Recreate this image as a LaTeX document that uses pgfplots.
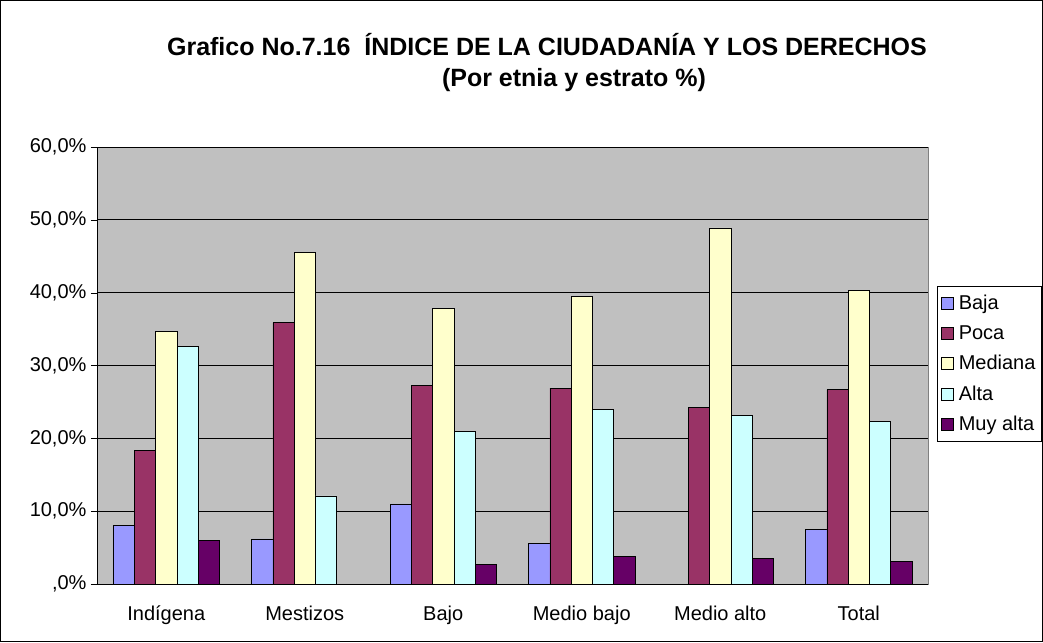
\documentclass[border=0pt]{standalone}
\usepackage{pgfplots}
\pgfplotsset{compat=1.18}
\usepackage{fontspec}
\setmainfont{Liberation Sans}
\definecolor{cBaja}{HTML}{9999FF}
\definecolor{cPoca}{HTML}{993366}
\definecolor{cMed}{HTML}{FFFFCC}
\definecolor{cAlta}{HTML}{CCFFFF}
\definecolor{cMuy}{HTML}{660066}
\definecolor{plotbg}{HTML}{C0C0C0}
\begin{document}
\begin{tikzpicture}[x=1pt,y=1pt]
\useasboundingbox (0,0) rectangle (1043,642);
\draw[black,line width=1pt] (0.5,0.5) rectangle (1042.5,641.5);
\node[font=\fontsize{25}{28}\selectfont\bfseries, anchor=base] at (547,586) {Grafico No.7.16\ \ ÍNDICE DE LA CIUDADANÍA Y LOS DERECHOS};
\node[font=\fontsize{25}{28}\selectfont\bfseries, anchor=base] at (574,555) {(Por etnia y estrato \%)};
\begin{axis}[
  at={(97pt,58pt)}, anchor=south west,
  scale only axis, width=831pt, height=437pt,
  ybar=0pt, bar width=21.3pt,
  xmin=-0.5, xmax=5.5, ymin=0, ymax=60,
  axis background/.style={fill=plotbg, draw=gray},
  axis x line*=bottom, axis y line*=left,
  axis line style={black, line width=0.8pt},
  major tick length=6pt,
  xtick={0,1,2,3,4,5},
  xticklabels={Indígena,Mestizos,Bajo,Medio bajo,Medio alto,Total},
  x tick style={draw=none},
  extra x ticks={-0.5,0.5,1.5,2.5,3.5,4.5,5.5},
  extra x tick labels={},
  extra x tick style={tick style={draw=black}, grid=none},
  ytick={0,10,20,30,40,50,60},
  yticklabels={{,0\%},{10,0\%},{20,0\%},{30,0\%},{40,0\%},{50,0\%},{60,0\%}},
  y tick style={black},
  tick align=outside,
  ymajorgrids, grid style={black, line width=0.7pt},
  tick label style={font=\fontsize{20}{24}\selectfont},
  xticklabel style={yshift=-12pt},
  yticklabel style={xshift=-1pt},
  legend style={at={(1.0108,0.682)}, anchor=north west, draw=black, fill=white,
    font=\fontsize{20}{24}\selectfont, row sep=10.5pt, inner xsep=4pt, inner ysep=7pt,
    legend cell align=left, /tikz/every odd column/.append style={column sep=3pt}},
  legend image code/.code={\draw[#1, draw=black, line width=0.6pt] (0pt,-6pt) rectangle (12pt,6pt);},
  every axis plot/.append style={draw=black, line width=0.6pt},
]
\addplot[fill=cBaja] coordinates {(0,8.1) (1,6.2) (2,11.0) (3,5.6) (5,7.45)};
\addplot[fill=cPoca] coordinates {(0,18.35) (1,35.9) (2,27.3) (3,26.9) (4,24.2) (5,26.7)};
\addplot[fill=cMed] coordinates {(0,34.65) (1,45.5) (2,37.8) (3,39.5) (4,48.9) (5,40.3)};
\addplot[fill=cAlta] coordinates {(0,32.6) (1,12.1) (2,21.0) (3,24.0) (4,23.2) (5,22.3)};
\addplot[fill=cMuy] coordinates {(0,6.0) (2,2.65) (3,3.75) (4,3.5) (5,3.05)};
\legend{Baja,Poca,Mediana,Alta,Muy alta}
\end{axis}
\end{tikzpicture}
\end{document}
